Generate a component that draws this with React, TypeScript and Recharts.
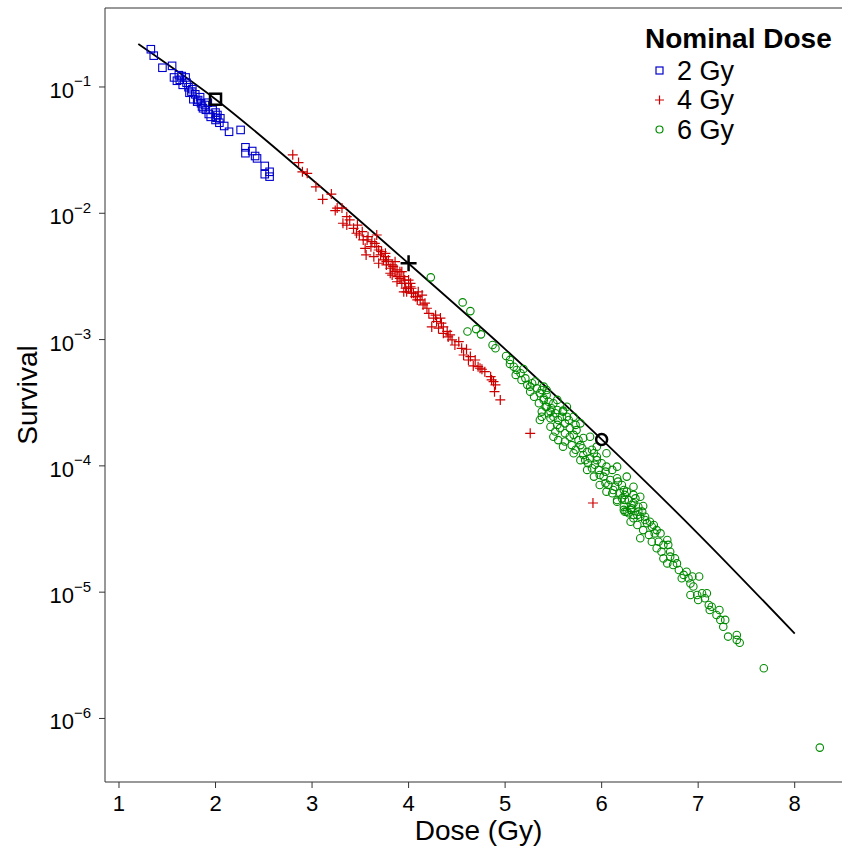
import React from 'react';
import {
  ComposedChart,
  Scatter,
  Line,
  XAxis,
  YAxis,
  ReferenceLine,
  Label,
} from 'recharts';

// [dose (Gy), surviving fraction]
const twoGyPoints = [
  [1.33, 0.199], [1.36, 0.177], [1.45, 0.142], [1.55, 0.147], [1.57, 0.119],
  [1.62, 0.124], [1.65, 0.122], [1.63, 0.114], [1.69, 0.119], [1.66, 0.104],
  [1.72, 0.0995], [1.76, 0.096], [1.73, 0.09], [1.79, 0.0875], [1.77, 0.08],
  [1.82, 0.0788], [1.85, 0.0743], [1.81, 0.0765], [1.87, 0.0678], [1.89, 0.072],
  [1.92, 0.0751], [1.93, 0.0611], [1.97, 0.0658], [2.0, 0.0627], [2.02, 0.06],
  [2.0, 0.0548], [2.05, 0.0565], [2.04, 0.0521], [2.09, 0.0491], [2.14, 0.0442],
  [2.26, 0.0457], [2.31, 0.0333], [2.31, 0.0299], [2.38, 0.0311], [2.41, 0.0284],
  [2.43, 0.0272], [2.51, 0.0237], [2.51, 0.0204], [2.56, 0.0213], [2.56, 0.0195],
  [1.6, 0.112], [1.7, 0.108], [1.75, 0.092], [1.84, 0.083], [1.9, 0.066],
  [1.95, 0.058], [2.01, 0.057], [1.86, 0.07],
];

const fourGyPoints = [
  [2.8, 0.029], [2.86, 0.0252], [2.9, 0.0213], [2.95, 0.0207], [3.04, 0.0162],
  [3.11, 0.0129], [3.2, 0.0142], [3.26, 0.011], [3.24, 0.0105], [3.31, 0.011],
  [3.36, 0.0094], [3.32, 0.00834], [3.39, 0.00885], [3.43, 0.0076], [3.47, 0.00807],
  [3.49, 0.00673], [3.52, 0.00715], [3.67, 0.00673], [3.57, 0.00615], [3.55, 0.00528],
  [3.61, 0.00544], [3.56, 0.00468], [3.65, 0.00578], [3.69, 0.00512], [3.64, 0.00453],
  [3.71, 0.00468], [3.74, 0.00427], [3.69, 0.00402], [3.77, 0.0039], [3.81, 0.00367],
  [3.86, 0.00345], [3.83, 0.00324], [3.89, 0.00315], [3.88, 0.00287], [3.93, 0.00279],
  [3.97, 0.00255], [3.95, 0.00239], [4.02, 0.00262], [4.03, 0.00233], [4.07, 0.00219],
  [3.93, 0.00345], [3.96, 0.00296], [4.0, 0.00255], [4.05, 0.00233], [4.09, 0.00219],
  [4.12, 0.00206], [4.15, 0.00188], [4.19, 0.00177], [4.17, 0.00194], [4.26, 0.00148],
  [4.29, 0.00139], [4.33, 0.00148], [4.24, 0.00126], [4.31, 0.00123], [4.36, 0.00126],
  [4.4, 0.00116], [4.43, 0.00109], [4.36, 0.00112], [4.45, 0.000993], [4.52, 0.000962],
  [4.55, 0.000853], [4.6, 0.000838], [4.57, 0.000755], [4.64, 0.000733], [4.69, 0.000689],
  [4.67, 0.000618], [4.72, 0.00061], [4.76, 0.000582], [4.79, 0.000557], [4.85, 0.000508],
  [4.88, 0.000465], [4.9, 0.000438], [4.89, 0.000387], [4.95, 0.000333], [5.26, 0.000181],
  [5.91, 5.08e-5],
  [3.76, 0.00453], [3.79, 0.00427], [3.84, 0.00378], [3.86, 0.00414], [3.91, 0.00345],
  [3.95, 0.00315], [4.0, 0.00296], [3.81, 0.00335], [3.53, 0.00615], [3.46, 0.00695],
  [3.36, 0.00807],
  [3.58, 0.00653], [3.62, 0.00596], [3.67, 0.00544], [3.72, 0.00497], [3.76, 0.00482],
  [3.77, 0.00414], [3.83, 0.0039], [3.88, 0.00356], [3.91, 0.00305], [3.96, 0.00279],
  [3.98, 0.00239], [4.03, 0.00255], [4.09, 0.00206], [4.02, 0.00279], [4.1, 0.00239],
  [4.14, 0.00225], [4.21, 0.00161], [4.28, 0.00156], [4.34, 0.00135], [4.41, 0.00105],
  [4.48, 0.000906], [4.62, 0.000689], [4.74, 0.000593], [4.86, 0.000479],
];

const sixGyPoints = [
  [4.23, 0.00311], [4.56, 0.00197], [4.64, 0.00168], [4.61, 0.00116], [4.7, 0.00121],
  [4.75, 0.0011], [4.87, 0.000906], [4.9, 0.000853], [5.01, 0.000741], [5.05, 0.000641],
  [5.09, 0.00061], [5.12, 0.000574], [5.19, 0.000585], [5.11, 0.000525], [5.17, 0.000479],
  [5.23, 0.000438], [5.28, 0.000451], [5.33, 0.000411], [5.26, 0.000387], [5.3, 0.000353],
  [5.36, 0.000376], [5.4, 0.000333], [5.35, 0.000313], [5.43, 0.000294], [5.47, 0.000269],
  [5.54, 0.000277], [5.6, 0.000274], [5.38, 0.000269], [5.5, 0.000245],
  [5.05, 0.00069], [5.16, 0.000541], [5.21, 0.000493], [5.26, 0.000424], [5.31, 0.000465],
  [5.4, 0.000424],
  [5.38, 0.000399], [5.4, 0.000343], [5.45, 0.000322], [5.42, 0.000294], [5.48, 0.000286],
  [5.38, 0.000245], [5.52, 0.000261], [5.6, 0.000269], [5.55, 0.000231], [5.47, 0.000238],
  [5.62, 0.000217], [5.66, 0.000231], [5.52, 0.000187], [5.57, 0.000199], [5.67, 0.000199],
  [5.73, 0.000211], [5.55, 0.00016], [5.62, 0.000156], [5.71, 0.000176], [5.76, 0.00016],
  [5.81, 0.000166], [5.69, 0.000146], [5.8, 0.000138], [5.85, 0.000129], [5.9, 0.000134],
  [5.81, 0.000122], [5.88, 0.000115], [5.95, 0.000118], [5.86, 0.000105], [5.93, 0.000102],
  [6.0, 0.000105], [5.97, 9.29e-5], [6.04, 9.0e-5], [6.11, 9.29e-5], [6.02, 8.22e-5],
  [6.09, 7.73e-5], [6.16, 7.98e-5], [6.07, 7.06e-5], [6.14, 6.84e-5], [6.21, 7.06e-5],
  [6.11, 6.07e-5], [6.19, 6.07e-5], [6.26, 6.25e-5], [6.16, 5.37e-5], [6.24, 5.37e-5],
  [6.35, 5.53e-5], [6.23, 4.75e-5], [6.31, 4.9e-5], [6.43, 4.81e-5], [6.28, 4.22e-5],
  [6.37, 4.08e-5], [6.4, 3.96e-5],
  [5.43, 0.000364], [5.5, 0.000313], [5.45, 0.000261], [5.59, 0.000245], [5.64, 0.000245],
  [5.54, 0.000211], [5.62, 0.000181], [5.67, 0.00017], [5.74, 0.000192], [5.78, 0.000146],
  [5.73, 0.000134], [5.83, 0.000111], [5.92, 0.000126], [5.9, 9.57e-5], [5.98, 8.47e-5],
  [5.95, 0.000111], [6.05, 9.86e-5], [6.04, 7.28e-5], [6.12, 6.44e-5], [6.17, 7.5e-5],
  [6.21, 5.53e-5], [6.3, 4.48e-5], [6.33, 5.06e-5], [6.24, 4.34e-5], [6.38, 4.75e-5],
  [6.42, 4.34e-5],
  [5.43, 0.000399], [5.54, 0.000333], [5.64, 0.000294], [5.71, 0.000245], [5.78, 0.000217],
  [5.88, 0.00017], [5.95, 0.000142], [6.05, 0.000126], [6.16, 9.86e-5], [6.26, 8.22e-5],
  [6.33, 6.84e-5], [6.4, 5.7e-5],
  [5.36, 0.000231], [5.47, 0.000204], [5.5, 0.00017], [5.6, 0.000142], [5.71, 0.000126],
  [5.78, 0.000111], [5.85, 9.29e-5], [5.92, 8.22e-5], [5.98, 7.06e-5], [6.05, 6.25e-5],
  [6.16, 5.21e-5], [6.23, 4.48e-5], [6.33, 3.85e-5],
  [6.24, 5.89e-5], [6.31, 4.61e-5], [6.38, 4.34e-5], [6.45, 3.96e-5], [6.5, 3.61e-5],
  [6.57, 3.1e-5], [6.54, 3.4e-5], [6.68, 2.59e-5], [6.71, 2.09e-5], [6.78, 1.69e-5],
  [6.85, 1.37e-5],
  [6.23, 6.44e-5], [6.28, 5.37e-5], [6.33, 5.89e-5], [6.26, 4.34e-5], [6.33, 4.08e-5],
  [6.45, 3.73e-5], [6.3, 3.61e-5], [6.37, 3.4e-5], [6.47, 3.52e-5], [6.52, 3.3e-5],
  [6.43, 3.1e-5], [6.4, 2.67e-5], [6.49, 2.84e-5], [6.55, 2.92e-5], [6.61, 2.92e-5],
  [6.52, 2.51e-5], [6.59, 2.51e-5], [6.57, 2.23e-5], [6.64, 2.37e-5], [6.69, 2.37e-5],
  [6.62, 2.09e-5], [6.64, 1.85e-5], [6.71, 1.91e-5], [6.76, 1.85e-5], [6.68, 1.69e-5],
  [6.74, 1.64e-5], [6.8, 1.5e-5], [6.88, 1.45e-5], [6.83, 1.29e-5], [6.9, 1.29e-5],
  [6.94, 1.33e-5], [7.01, 1.33e-5], [6.92, 1.17e-5], [6.95, 1.11e-5], [6.92, 9.5e-6],
  [6.99, 9.5e-6], [7.04, 9.8e-6], [7.09, 9.8e-6], [7.0, 8.67e-6], [7.07, 8.95e-6],
  [7.11, 7.92e-6], [7.14, 7.67e-6], [7.22, 7.23e-6], [7.12, 7.23e-6], [7.19, 6.59e-6],
  [7.23, 6.03e-6], [7.28, 6.03e-6], [7.26, 5.33e-6], [7.31, 4.45e-6], [7.4, 4.58e-6],
  [7.4, 4.19e-6], [7.43, 3.98e-6], [7.68, 2.5e-6], [8.26, 5.88e-7],
];

// the fitted curve and the nominal-dose markers
const fitDose = [1.2, 2, 3, 4, 5, 6, 7, 8];
const fitSurvival = [0.219, 0.08, 0.0185, 0.004, 0.00084, 0.000162, 2.9e-5, 4.7e-6];
const nominalSquare = [[2, 0.08]];
const nominalPlus = [[4, 0.00402]];
const nominalCircle = [[6, 0.000162]];

const xTicks = [1, 2, 3, 4, 5, 6, 7, 8];
const yTicks = [1e-6, 1e-5, 1e-4, 1e-3, 1e-2, 1e-1];
const xDomain = [0.855, 8.49];
const yDomain = [3.14e-7, 0.422];

const legendItems = ['2 Gy', '4 Gy', '6 Gy'];

const BLUE = '#0000CD';
const RED = '#CD0000';
const GREEN = '#008B00';
const AXIS = '#333333';
const FONT = '"Liberation Sans", Arial, Helvetica, sans-serif';

const toRows = (pts: number[][]) => pts.map(([dose, s]) => ({ dose, s }));

const squareShape = (color: string, size: number, sw: number) => (props: any) => {
  const { cx, cy } = props;
  if (cx == null || cy == null) return <g />;
  return (
    <rect x={cx - size / 2} y={cy - size / 2} width={size} height={size}
      fill="none" stroke={color} strokeWidth={sw} />
  );
};

const plusShape = (color: string, size: number, sw: number) => (props: any) => {
  const { cx, cy } = props;
  if (cx == null || cy == null) return <g />;
  const h = size / 2;
  return (
    <path d={`M${cx - h},${cy}H${cx + h}M${cx},${cy - h}V${cy + h}`}
      stroke={color} strokeWidth={sw} fill="none" />
  );
};

const circleShape = (color: string, size: number, sw: number) => (props: any) => {
  const { cx, cy } = props;
  if (cx == null || cy == null) return <g />;
  return <circle cx={cx} cy={cy} r={size / 2} fill="none" stroke={color} strokeWidth={sw} />;
};

const PowerTick = (props: any) => {
  const { x, y, payload } = props;
  const exp = Math.round(Math.log10(payload.value));
  return (
    <text x={x} y={y + 11} textAnchor="end" fill="#000" fontSize={22} fontFamily={FONT}>
      <tspan>10</tspan>
      <tspan dy={-11.5} fontSize={15}>{'\u2212' + Math.abs(exp)}</tspan>
    </text>
  );
};

const SurvivalLabel = (props: any) => {
  const { viewBox } = props;
  const cx = 27;
  const cy = viewBox.y + viewBox.height / 2;
  return (
    <text x={cx} y={cy} transform={`rotate(-90, ${cx}, ${cy})`} textAnchor="middle"
      dominantBaseline="central" fontSize={28} fill="#000" fontFamily={FONT}>
      Survival
    </text>
  );
};

const DoseLabel = (props: any) => {
  const { viewBox } = props;
  return (
    <text x={viewBox.x + viewBox.width / 2 + 5} y={840} textAnchor="middle"
      fontSize={28} fill="#000" fontFamily={FONT}>
      Dose (Gy)
    </text>
  );
};

const legendShapes = [
  (cx: number, cy: number) => <rect x={cx - 3.5} y={cy - 3.5} width={7} height={7} fill="none" stroke={BLUE} strokeWidth={1.2} />,
  (cx: number, cy: number) => <path d={`M${cx - 4.5},${cy}H${cx + 4.5}M${cx},${cy - 4.5}V${cy + 4.5}`} stroke={RED} strokeWidth={1.2} />,
  (cx: number, cy: number) => <circle cx={cx} cy={cy} r={3.5} fill="none" stroke={GREEN} strokeWidth={1.2} />,
];

const DoseLegend = () => (
  <svg width={842} height={160} style={{ position: 'absolute', left: 0, top: 0, pointerEvents: 'none' }}>
    <text x={645} y={48} fontSize={28} fontWeight="bold" fill="#000" fontFamily={FONT}>
      Nominal Dose
    </text>
    {legendItems.map((name, i) => (
      <g key={name}>
        {legendShapes[i](659.5, 70.5 + i * 29.5)}
        <text x={677} y={80 + i * 29.3} fontSize={27} fill="#000" fontFamily={FONT}>{name}</text>
      </g>
    ))}
  </svg>
);

export default function App() {
  const fitRows = fitDose.map((dose, i) => ({ dose, s: fitSurvival[i] }));

  return (
    <div style={{ position: 'absolute', left: 0, top: 0, width: 842, height: 852, background: '#fff', fontFamily: FONT }}>
      <ComposedChart width={842} height={852} margin={{ top: 8, right: 0, bottom: 0, left: 0 }}>
        <XAxis
          type="number"
          dataKey="dose"
          domain={xDomain}
          ticks={xTicks}
          allowDataOverflow
          height={70}
          stroke={AXIS}
          tickSize={6}
          tickMargin={7}
          tick={{ fontSize: 22, fill: '#000' }}
        >
          <Label content={<DoseLabel />} />
        </XAxis>
        <YAxis
          type="number"
          dataKey="s"
          scale="log"
          domain={yDomain}
          ticks={yTicks}
          allowDataOverflow
          width={105}
          stroke={AXIS}
          tickSize={6}
          tickMargin={8}
          tick={<PowerTick />}
        >
          <Label content={<SurvivalLabel />} />
        </YAxis>
        <ReferenceLine y={yDomain[1]} stroke={AXIS} strokeWidth={1} />
        <Scatter data={toRows(twoGyPoints)} shape={squareShape(BLUE, 7.5, 1.1)} isAnimationActive={false} />
        <Scatter data={toRows(fourGyPoints)} shape={plusShape(RED, 10, 1.2)} isAnimationActive={false} />
        <Scatter data={toRows(sixGyPoints)} shape={circleShape(GREEN, 7.5, 1.1)} isAnimationActive={false} />
        <Line data={fitRows} dataKey="s" type="monotone" stroke="#000" strokeWidth={1.8}
          dot={false} activeDot={false} isAnimationActive={false} />
        <Scatter data={toRows(nominalSquare)} shape={squareShape('#000', 11, 2.5)} isAnimationActive={false} />
        <Scatter data={toRows(nominalPlus)} shape={plusShape('#000', 16, 2.5)} isAnimationActive={false} />
        <Scatter data={toRows(nominalCircle)} shape={circleShape('#000', 11, 2.5)} isAnimationActive={false} />
      </ComposedChart>
      <DoseLegend />
    </div>
  );
}
